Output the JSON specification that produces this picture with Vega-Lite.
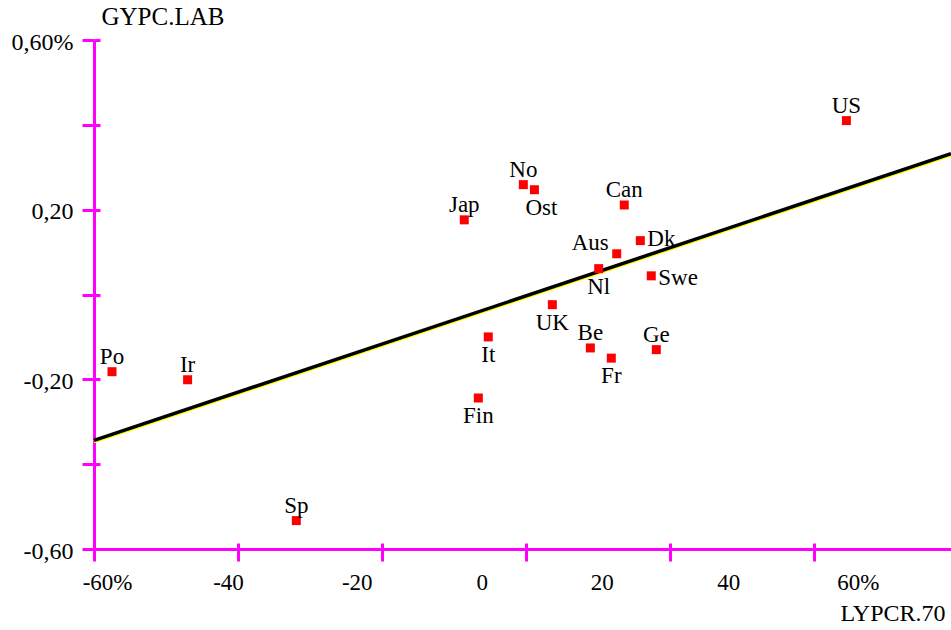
{
  "$schema": "https://vega.github.io/schema/vega-lite/v6.json",
  "width": 857,
  "height": 509,
  "autosize": "none",
  "padding": {"left": 94, "top": 40, "right": 0, "bottom": 81},
  "background": "white",
  "config": {"view": {"stroke": null}, "font": "'Liberation Serif', 'Times New Roman', Times, serif"},
  "datasets": {
    "countries": [
      {"name": "US", "x": 44.5, "y": 0.410},
      {"name": "No", "x": -0.37, "y": 0.259},
      {"name": "Ost", "x": 1.17, "y": 0.247},
      {"name": "Jap", "x": -8.57, "y": 0.176},
      {"name": "Can", "x": 13.65, "y": 0.211},
      {"name": "Dk", "x": 15.88, "y": 0.127},
      {"name": "Aus", "x": 12.6, "y": 0.096},
      {"name": "Nl", "x": 10.1, "y": 0.061},
      {"name": "Swe", "x": 17.4, "y": 0.044},
      {"name": "UK", "x": 3.66, "y": -0.024},
      {"name": "It", "x": -5.24, "y": -0.100},
      {"name": "Be", "x": 8.94, "y": -0.126},
      {"name": "Fr", "x": 11.85, "y": -0.150},
      {"name": "Ge", "x": 18.1, "y": -0.130},
      {"name": "Fin", "x": -6.62, "y": -0.244},
      {"name": "Po", "x": -57.5, "y": -0.182},
      {"name": "Ir", "x": -47.0, "y": -0.201},
      {"name": "Sp", "x": -31.9, "y": -0.533}
    ],
    "fit": [
      {"x": -60, "y": -0.344},
      {"x": 59.03, "y": 0.332}
    ]
  },
  "layer": [
    {
      "mark": {"type": "rule", "color": "#555555", "strokeWidth": 1.5},
      "encoding": {
        "x": {"datum": 0, "type": "quantitative",
          "scale": {"domain": [-60, 59.03], "nice": false, "zero": false},
          "axis": {
            "orient": "bottom",
            "values": [-58.19, -41.39, -23.51, -6.15, 10.51, 28.1, 46.08],
            "labelExpr": "datum.value < -50 ? '-60%' : datum.value < -30 ? '-40' : datum.value < -15 ? '-20' : datum.value < 0 ? '0' : datum.value < 20 ? '20' : datum.value < 40 ? '40' : '60%'",
            "ticks": false, "tickSize": 0, "domain": false, "grid": false,
            "labelPadding": 22, "labelFont": "'Liberation Serif', 'Times New Roman', Times, serif", "labelFontSize": 23,
            "labelColor": "black", "labelOverlap": false, "labelFlush": false, "labelBound": false,
            "title": null
          }
        }
      }
    },
    {
      "mark": {"type": "rule", "color": "#555555", "strokeWidth": 1.5},
      "encoding": {
        "y": {"datum": 0, "type": "quantitative",
          "scale": {"domain": [-0.6, 0.6], "nice": false, "zero": false},
          "axis": {
            "orient": "left",
            "values": [-0.6, -0.4, -0.2, 0, 0.2, 0.4, 0.6],
            "labels": false, "ticks": true, "tickSize": -6, "tickWidth": 3, "tickColor": "#ff00ff",
            "domain": false, "grid": false, "title": null
          }
        }
      }
    },
    {
      "mark": {"type": "rule", "color": "#ff00ff", "strokeWidth": 3},
      "encoding": {
        "y": {"datum": 0.6, "type": "quantitative",
          "scale": {"domain": [-0.6, 0.6], "nice": false, "zero": false},
          "axis": null}
      }
    },
    {
      "data": {"name": "fit"},
      "mark": {"type": "line", "color": "#ffff00", "strokeWidth": 3, "yOffset": 1.5},
      "encoding": {
        "x": {"field": "x", "type": "quantitative",
          "scale": {"domain": [-60, 59.03], "nice": false, "zero": false},
          "axis": {
            "orient": "bottom",
            "values": [-60, -40, -20, 0, 20, 40],
            "labels": false, "ticks": true, "tickSize": -6, "tickWidth": 3, "tickColor": "#ff00ff",
            "domain": false, "grid": false, "title": null
          }
        },
        "y": {"field": "y", "type": "quantitative",
          "scale": {"domain": [-0.6, 0.6], "nice": false, "zero": false},
          "axis": null}
      }
    },
    {
      "data": {"name": "fit"},
      "mark": {"type": "line", "color": "#000000", "strokeWidth": 3.5},
      "encoding": {
        "x": {"field": "x", "type": "quantitative",
          "scale": {"domain": [-60, 59.03], "nice": false, "zero": false}, "axis": null},
        "y": {"field": "y", "type": "quantitative",
          "scale": {"domain": [-0.6, 0.6], "nice": false, "zero": false}, "axis": null}
      }
    },
    {
      "data": {"name": "countries"},
      "mark": {"type": "point", "shape": "square", "filled": true, "size": 81, "color": "#ff0000", "opacity": 1, "strokeWidth": 0},
      "encoding": {
        "x": {"field": "x", "type": "quantitative",
          "scale": {"domain": [-60, 59.03], "nice": false, "zero": false},
          "axis": {
            "orient": "bottom",
            "values": [-60, -40, -20, 0, 20, 40],
            "labels": false, "ticks": true, "tickSize": 12, "tickWidth": 3, "tickColor": "#ff00ff",
            "domain": true, "domainColor": "#ff00ff", "domainWidth": 3, "grid": false,
            "title": "LYPCR.70", "titleFont": "'Liberation Serif', 'Times New Roman', Times, serif", "titleFontSize": 24,
            "titleFontWeight": "normal", "titleColor": "black",
            "titleX": 851, "titleY": 71, "titleAlign": "right", "titleBaseline": "alphabetic", "titleAngle": 0
          }
        },
        "y": {"field": "y", "type": "quantitative",
          "scale": {"domain": [-0.6, 0.6], "nice": false, "zero": false},
          "axis": {
            "orient": "left",
            "values": [-0.6, -0.4, -0.2, 0, 0.2, 0.4, 0.6],
            "labelExpr": "abs(datum.value-0.6)<0.01 ? '0,60%' : abs(datum.value-0.2)<0.01 ? '0,20' : abs(datum.value+0.2)<0.01 ? '-0,20' : abs(datum.value+0.6)<0.01 ? '-0,60' : ''",
            "ticks": true, "tickSize": 12, "tickWidth": 3, "tickColor": "#ff00ff",
            "domain": true, "domainColor": "#ff00ff", "domainWidth": 3, "grid": false,
            "labelPadding": 9, "labelOffset": 2, "labelFont": "'Liberation Serif', 'Times New Roman', Times, serif", "labelFontSize": 24,
            "labelColor": "black", "labelOverlap": false, "labelFlush": false, "labelBound": false,
            "title": "GYPC.LAB", "titleFont": "'Liberation Serif', 'Times New Roman', Times, serif", "titleFontSize": 25,
            "titleFontWeight": "normal", "titleColor": "black",
            "titleX": 7, "titleY": -16, "titleAlign": "left", "titleBaseline": "alphabetic", "titleAngle": 0
          }
        }
      }
    },
    {
      "data": {"name": "countries"},
      "transform": [{"filter": "indexof(['US','No','Can','Jap','Be','Ge','Po','Ir','Sp'], datum.name) >= 0"}],
      "mark": {"type": "text", "font": "'Liberation Serif', 'Times New Roman', Times, serif", "fontSize": 23, "color": "black", "align": "center", "baseline": "alphabetic", "dy": -8},
      "encoding": {
        "x": {"field": "x", "type": "quantitative", "scale": {"domain": [-60, 59.03], "nice": false, "zero": false}, "axis": null},
        "y": {"field": "y", "type": "quantitative", "scale": {"domain": [-0.6, 0.6], "nice": false, "zero": false}, "axis": null},
        "text": {"field": "name"}
      }
    },
    {
      "data": {"name": "countries"},
      "transform": [{"filter": "indexof(['Nl','UK','It','Fr','Fin'], datum.name) >= 0"}],
      "mark": {"type": "text", "font": "'Liberation Serif', 'Times New Roman', Times, serif", "fontSize": 23, "color": "black", "align": "center", "baseline": "alphabetic", "dy": 25},
      "encoding": {
        "x": {"field": "x", "type": "quantitative", "scale": {"domain": [-60, 59.03], "nice": false, "zero": false}, "axis": null},
        "y": {"field": "y", "type": "quantitative", "scale": {"domain": [-0.6, 0.6], "nice": false, "zero": false}, "axis": null},
        "text": {"field": "name"}
      }
    },
    {
      "data": {"name": "countries"},
      "transform": [{"filter": "datum.name == 'Ost'"}],
      "mark": {"type": "text", "font": "'Liberation Serif', 'Times New Roman', Times, serif", "fontSize": 23, "color": "black", "align": "center", "baseline": "alphabetic", "dx": 7, "dy": 25},
      "encoding": {
        "x": {"field": "x", "type": "quantitative", "scale": {"domain": [-60, 59.03], "nice": false, "zero": false}, "axis": null},
        "y": {"field": "y", "type": "quantitative", "scale": {"domain": [-0.6, 0.6], "nice": false, "zero": false}, "axis": null},
        "text": {"field": "name"}
      }
    },
    {
      "data": {"name": "countries"},
      "transform": [{"filter": "datum.name == 'Aus'"}],
      "mark": {"type": "text", "font": "'Liberation Serif', 'Times New Roman', Times, serif", "fontSize": 23, "color": "black", "align": "right", "baseline": "alphabetic", "dx": -8, "dy": -4},
      "encoding": {
        "x": {"field": "x", "type": "quantitative", "scale": {"domain": [-60, 59.03], "nice": false, "zero": false}, "axis": null},
        "y": {"field": "y", "type": "quantitative", "scale": {"domain": [-0.6, 0.6], "nice": false, "zero": false}, "axis": null},
        "text": {"field": "name"}
      }
    },
    {
      "data": {"name": "countries"},
      "transform": [{"filter": "datum.name == 'Dk'"}],
      "mark": {"type": "text", "font": "'Liberation Serif', 'Times New Roman', Times, serif", "fontSize": 23, "color": "black", "align": "left", "baseline": "alphabetic", "dx": 7, "dy": 5},
      "encoding": {
        "x": {"field": "x", "type": "quantitative", "scale": {"domain": [-60, 59.03], "nice": false, "zero": false}, "axis": null},
        "y": {"field": "y", "type": "quantitative", "scale": {"domain": [-0.6, 0.6], "nice": false, "zero": false}, "axis": null},
        "text": {"field": "name"}
      }
    },
    {
      "data": {"name": "countries"},
      "transform": [{"filter": "datum.name == 'Swe'"}],
      "mark": {"type": "text", "font": "'Liberation Serif', 'Times New Roman', Times, serif", "fontSize": 23, "color": "black", "align": "left", "baseline": "alphabetic", "dx": 7, "dy": 9},
      "encoding": {
        "x": {"field": "x", "type": "quantitative", "scale": {"domain": [-60, 59.03], "nice": false, "zero": false}, "axis": null},
        "y": {"field": "y", "type": "quantitative", "scale": {"domain": [-0.6, 0.6], "nice": false, "zero": false}, "axis": null},
        "text": {"field": "name"}
      }
    }
  ],
  "resolve": {"axis": {"x": "independent", "y": "independent"}}
}
